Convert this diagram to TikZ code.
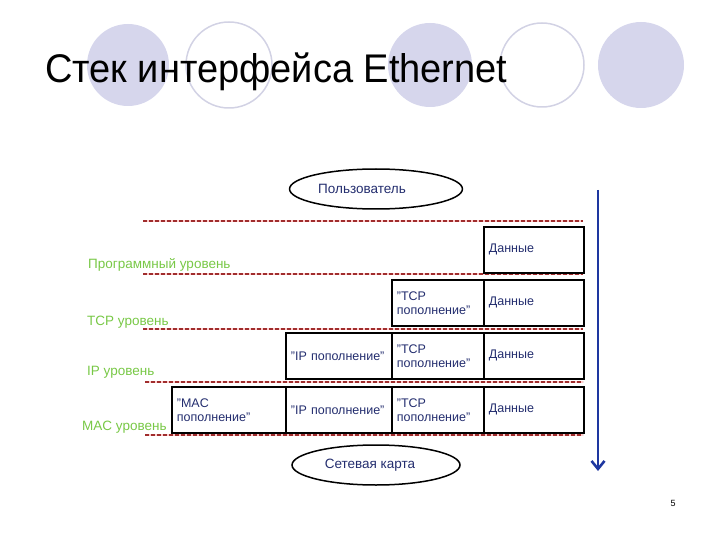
\documentclass[tikz,border=0pt]{standalone}
\usepackage{fontspec}
\setmainfont{Liberation Sans}
\usetikzlibrary{arrows.meta, shapes.geometric}
\definecolor{lavender}{RGB}{214,214,236}
\definecolor{ringgray}{RGB}{210,210,228}
\definecolor{navy}{RGB}{35,45,110}
\definecolor{lvlgreen}{RGB}{120,200,70}
\definecolor{sepred}{RGB}{160,45,45}
\definecolor{arrowblue}{RGB}{30,55,160}

\begin{document}
\begin{tikzpicture}[x=1pt, y=-1pt,
  cell/.style={draw, line width=1.8pt, anchor=north west, minimum height=46pt,
    text width=#1, align=left, inner xsep=5pt, text=navy,
    font=\fontsize{12.5}{14}\selectfont},
  level/.style={anchor=west, text=lvlgreen, inner sep=0pt,
    font=\fontsize{13.5}{15}\selectfont},
  sep/.style={draw=sepred, line width=1.1pt, dash pattern=on 4pt off 2pt,
    preaction={draw=red!20, line width=2.6pt, solid}},
  host/.style={ellipse, draw, line width=1.5pt, minimum width=168pt,
    minimum height=40pt, text=navy, font=\fontsize{13.5}{15}\selectfont}]
\useasboundingbox (0,0) rectangle (720,540);

% decor
\fill[lavender] (128,65) circle (41);
\draw[ringgray, line width=1.5pt] (229,65) circle (43);
\fill[lavender] (430,65) circle (42);
\draw[ringgray, line width=1.5pt] (542,65) circle (42);
\fill[lavender] (641,65) circle (43);
\node[anchor=base west, inner sep=0pt, font=\fontsize{40}{44}\selectfont] (title)
  at (45,83) {\scalebox{0.95}[1]{Стек интерфейса Ethernet}};

% levels
\node[host] (user) at (376,189) {Пользователь\hspace*{28pt}};
\draw[sep] (143,221) -- (583,221);
\node[level] (app) at (88,265) {Программный уровень};
\draw[sep] (143,274) -- (583,274);
\node[level] (tcp) at (87,322) {TCP уровень};
\draw[sep] (143,329) -- (583,329);
\node[level] (ip) at (87,372) {IP уровень};
\draw[sep] (145,382) -- (583,382);
\node[level] (mac) at (82,427) {MAC уровень};
\draw[sep] (145,435) -- (583,435);
\node[host] (nic) at (376,465) {Сетевая карта\hspace*{12pt}};

% frames
\node[cell=90pt] (d1) at (483,226) {Данные};

\node[cell=82pt] (t2) at (391,279) {"TCP\\ пополнение"};
\node[cell=90pt] (d2) at (483,279) {Данные};

\node[cell=96pt] (i3) at (285,332) {"IP пополнение"};
\node[cell=82pt] (t3) at (391,332) {"TCP\\ пополнение"};
\node[cell=90pt] (d3) at (483,332) {Данные};

\node[cell=104pt] (m4) at (171,386) {"MAC\\ пополнение"};
\node[cell=96pt] (i4) at (285,386) {"IP пополнение"};
\node[cell=82pt] (t4) at (391,386) {"TCP\\ пополнение"};
\node[cell=90pt] (d4) at (483,386) {Данные};

% direction
\coordinate (top) at (598,190);
\coordinate (bottom) at (598,471);
\draw[arrowblue, line width=2.6pt, -{Straight Barb[length=8pt, width=13pt]}] (top) -- (bottom);

\node[font=\fontsize{9}{10}\selectfont] (page) at (673,503) {5};
\end{tikzpicture}
\end{document}
